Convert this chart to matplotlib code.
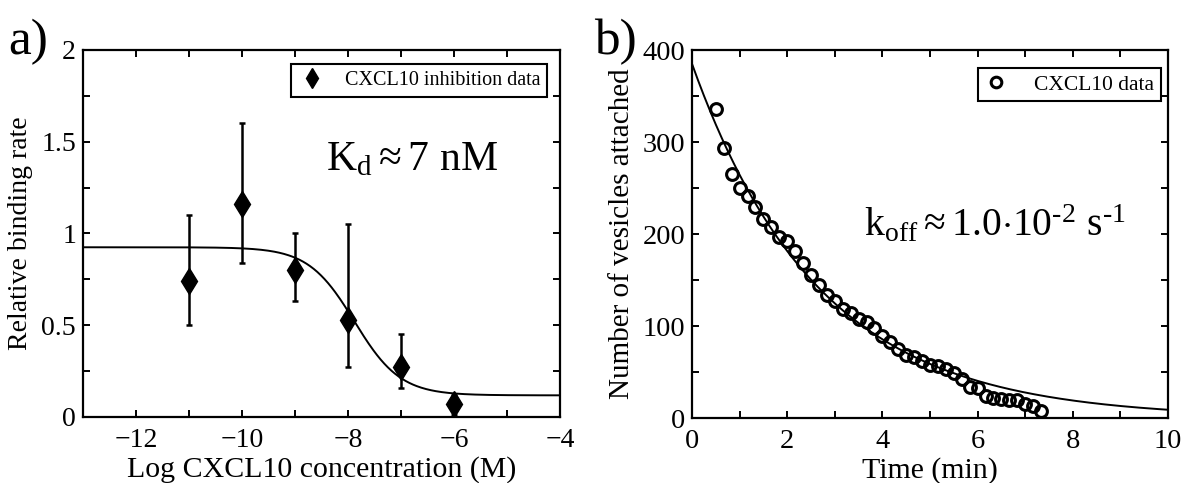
# -*- coding: utf-8 -*-
# CXCL10 inhibition / vesicle detachment, two panels

import numpy as np
import matplotlib.pyplot as plt

plt.rcParams['font.family'] = ['Liberation Serif', 'DejaVu Serif']
plt.rcParams['mathtext.fontset'] = 'custom'
plt.rcParams['mathtext.rm'] = 'Liberation Serif'
plt.rcParams['mathtext.it'] = 'Liberation Serif'

# panel a: inhibition data (log M, relative rate, error bar ends)
log_conc = [-11, -10, -9, -8, -7, -6]
rel_rate = [0.74, 1.16, 0.80, 0.53, 0.27, 0.07]
err_top = [1.10, 1.60, 1.00, 1.05, 0.45, 0.12]
err_bot = [0.50, 0.84, 0.63, 0.27, 0.16, 0.01]
# sigmoid fit parameters
fit_top = 0.925
fit_bottom = 0.118
fit_logic50 = -7.88

# panel b: vesicles attached vs time (min)
t_min = [0.50, 0.67, 0.83, 1.00, 1.17, 1.33, 1.50, 1.67, 1.83, 2.00,
         2.17, 2.33, 2.50, 2.67, 2.83, 3.00, 3.17, 3.33, 3.50, 3.67,
         3.83, 4.00, 4.17, 4.33, 4.50, 4.67, 4.83, 5.00, 5.17, 5.33,
         5.50, 5.67, 5.83, 6.00, 6.17, 6.33, 6.50, 6.67, 6.83, 7.00,
         7.17, 7.33]
n_ves = [336, 293, 265, 250, 241, 229, 216, 208, 197, 192,
         181, 169, 155, 145, 134, 127, 118, 114, 108, 104,
         98, 89, 83, 75, 68, 66, 62, 58, 57, 53,
         49, 42, 34, 33, 24, 22, 21, 20, 20, 15,
         13, 8]
# exponential fit parameters
fit_n0 = 385.0
fit_k = 0.376  # 1/min

xticks_a = list(range(-13, -3))
xlabels_a = ['', '\u221212', '', '\u221210', '', '\u22128', '', '\u22126', '', '\u22124']
yticks_a = [0, 0.25, 0.5, 0.75, 1, 1.25, 1.5, 1.75, 2]
ylabels_a = ['0', '', '0.5', '', '1', '', '1.5', '', '2']
xticks_b = list(range(0, 11))
xlabels_b = ['0', '', '2', '', '4', '', '6', '', '8', '', '10']
yticks_b = [0, 50, 100, 150, 200, 250, 300, 350, 400]
ylabels_b = ['0', '', '100', '', '200', '', '300', '', '400']


def style_axes(ax, size):
    for s in ax.spines.values():
        s.set_linewidth(1.6)
    ax.tick_params(direction='in', top=True, right=True, length=5, width=1.4,
                   labelsize=size)
    ax.tick_params(axis='x', pad=8)
    ax.tick_params(axis='y', pad=5)


fig = plt.figure(figsize=(11.84, 4.83), dpi=100)
ax1 = fig.add_axes([83 / 1184, 66 / 483, 477 / 1184, 367 / 483])
ax2 = fig.add_axes([692 / 1184, 65 / 483, 476 / 1184, 368 / 483])

# ---- panel a
xs = np.linspace(-13, -4, 400)
ys = fit_bottom + (fit_top - fit_bottom) / (1 + 10 ** (xs - fit_logic50))
ax1.plot(xs, ys, 'k-', lw=1.4)
lo = np.array(rel_rate) - np.array(err_bot)
hi = np.array(err_top) - np.array(rel_rate)
ax1.errorbar(log_conc, rel_rate, yerr=[lo, hi], fmt='none', ecolor='k',
             elinewidth=1.8, capsize=2.5, capthick=1.8)
ax1.plot(log_conc, rel_rate, 'kd', ms=13, label='CXCL10 inhibition data')
ax1.set_xlim(-13, -4)
ax1.set_ylim(0, 2)
ax1.set_xticks(xticks_a)
ax1.set_xticklabels(xlabels_a)
ax1.set_yticks(yticks_a)
ax1.set_yticklabels(ylabels_a)
style_axes(ax1, 20)
ax1.set_xlabel('Log CXCL10 concentration (M)', fontsize=21.5, labelpad=2)
ax1.set_ylabel('Relative binding rate', fontsize=20, labelpad=6)
ax1.text(-8.42, 1.345, r'$\mathrm{K_d} \approx \mathrm{7\ nM}$', fontsize=30)
leg = ax1.legend(loc='upper right', bbox_to_anchor=(0.973, 0.962), fontsize=14.5,
                 fancybox=False, edgecolor='k', framealpha=1, borderaxespad=0,
                 handletextpad=0.9, handlelength=1.4, borderpad=0.35,
                 numpoints=1, markerscale=0.75)
leg.get_frame().set_linewidth(1.5)

# ---- panel b
ts = np.linspace(0, 10, 400)
ax2.plot(ts, fit_n0 * np.exp(-fit_k * ts), 'k-', lw=1.4)
ax2.plot(t_min, n_ves, 'o', mfc='none', mec='k', mew=2.2, ms=8.5, label='CXCL10 data')
ax2.set_xlim(0, 10)
ax2.set_ylim(0, 400)
ax2.set_xticks(xticks_b)
ax2.set_xticklabels(xlabels_b)
ax2.set_yticks(yticks_b)
ax2.set_yticklabels(ylabels_b)
style_axes(ax2, 20.5)
ax2.set_xlabel('Time (min)', fontsize=21.5, labelpad=2)
ax2.set_ylabel('Number of vesicles attached', fontsize=21, labelpad=5)
ax2.text(3.62, 198, '$\\mathrm{k_{off}} \\approx \\mathrm{1.0{\\cdot}10^{\u20102}\\ s^{\u20101}}$',
         fontsize=28.5)
leg = ax2.legend(loc='upper right', bbox_to_anchor=(0.985, 0.951), fontsize=15.5,
                 fancybox=False, edgecolor='k', framealpha=1, borderaxespad=0,
                 handletextpad=1.3, handlelength=1.0, borderpad=0.3,
                 numpoints=1, markerscale=0.9)
leg.get_frame().set_linewidth(1.5)

fig.text(8 / 1184, 1 - 42 / 483, 'a)', fontsize=37, va='center')
fig.text(594 / 1184, 1 - 42 / 483, 'b)', fontsize=37, va='center')

fig.savefig('out.png', dpi=100)
